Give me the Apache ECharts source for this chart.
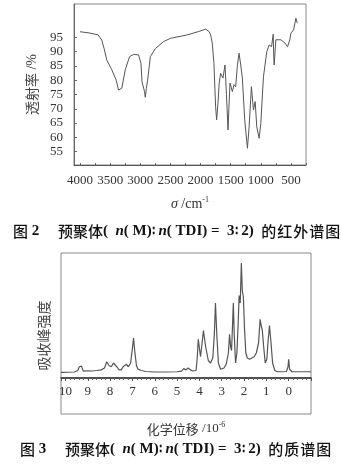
<!DOCTYPE html>
<html><head><meta charset="utf-8">
<script src="https://cdn.jsdelivr.net/npm/echarts@6/dist/echarts.min.js"></script>
<style>html,body{margin:0;padding:0;background:#fff}#c{width:341px;height:466px}</style>
</head><body><div id="c"></div><script>
// IR spectrum (wavenumber cm^-1, transmittance %)
const irWavenumber = [4000,3850,3700,3640,3600,3556,3472,3400,3361,3330,3306,3250,3178,3111,3028,2989,2972,2930,2917,2900,2878,2833,2750,2611,2500,2222,2028,1917,1860,1833,1806,1778,1750,1733,1711,1690,1667,1628,1594,1570,1544,1530,1511,1472,1444,1417,1389,1361,1333,1306,1267,1222,1194,1156,1122,1094,1067,1028,1000,956,900,861,822,794,785,778,750,667,600,556,520,500,456,417,400,389];
const irTransmittance = [96.9,96.5,95.8,94,91,87,83.6,80,76.5,76,77.2,83.6,88.2,89,88.8,85.9,79.5,76,74,77,80,88.2,91,93.5,94.6,95.8,97,97.8,97,95.8,93,85.9,70.7,66.1,71.9,79,82.4,80.7,85.3,75,62.6,70,79,76,78.4,77.7,85,89.4,85.3,80.7,66.1,56.2,63.7,77.7,69.6,72.5,63.7,59.7,64.9,81.2,90,92.3,91.7,96,88,85.3,94.1,94.1,93,91.7,94,96.4,97.6,101.6,100.2,99.9];
const irYTicks = [55,60,65,70,75,80,85,90,95];
const irXLabels = [500,1000,1500,2000,2500,3000,3500,4000];

// 1H NMR spectrum (chemical shift, relative intensity)
const nmrShift = [10.2,9.9,9.6,9.45,9.38,9.33,9.28,9.2,9.0,8.8,8.6,8.4,8.25,8.15,8.05,7.95,7.85,7.78,7.7,7.6,7.5,7.42,7.35,7.27,7.18,7.08,7.0,6.95,6.9,6.82,6.75,6.68,6.6,6.4,6.0,5.5,5.0,4.8,4.7,4.6,4.5,4.4,4.3,4.15,4.1,4.05,4.0,3.95,3.88,3.82,3.77,3.72,3.6,3.5,3.4,3.33,3.28,3.22,3.15,3.05,2.9,2.8,2.7,2.65,2.6,2.56,2.52,2.48,2.44,2.38,2.32,2.26,2.22,2.17,2.12,2.08,2.03,1.98,1.92,1.85,1.75,1.65,1.55,1.45,1.35,1.28,1.23,1.18,1.12,1.05,0.98,0.92,0.86,0.8,0.72,0.62,0.5,0.3,0.1,0.03,0.0,-0.04,-0.15,-0.5,-1.0];
const nmrIntensity = [4.5,4.6,4.8,6,9,7.5,9.5,5.5,5.8,5.6,6,6.5,8,13,10,9,12,13.5,9,6.5,6.5,9,8,11,9,12,24,32,22,10,7,8,6,5.2,4.8,4.8,5,5.5,7.5,6.5,8,6.5,5.6,6,15,31,24,17,28,38,37,25,14,12,16,35,60,35,12,7,8,11,20,35,25,22,40,60,35,12,20,45,66,60,92,70,65,40,20,16,15,16,17,20,28,47,42,38,25,12,15,30,42,30,12,6,5,5,5.2,9,15,7,5,5,5];
const nmrXLabels = [0,1,2,3,4,5,6,7,8,9,10];

const serif = 'Liberation Serif, Times New Roman, serif';
const cjk = 'Noto Sans CJK SC';
const chart = echarts.init(document.getElementById('c'), null, {renderer: 'canvas'});
const capRich = {
  c: {fontFamily: cjk, fontSize: 15, fontWeight: 500, color: '#111'},
  w: {fontFamily: cjk, fontSize: 15, fontWeight: 500, color: '#111', padding: [0, 1, 0, 0]},
  s: {fontFamily: serif, fontSize: 15, fontWeight: 'bold', color: '#111'},
  r: {fontFamily: 'DejaVu Serif', fontSize: 13, fontWeight: 'bold', color: '#111'},
  i: {fontFamily: serif, fontSize: 15, fontStyle: 'italic', fontWeight: 'bold', color: '#111'}
};
function caption(num, tail) {
  return '{c|图}{s| ' + num + '     }{c|预聚体}{s|(  }{i|n}{s|( M)}{r|∶}{s| }{i|n}{s|( TDI) =  3}{r|∶}{s| 2)  }' +
    tail.split('').map(ch => '{w|' + ch + '}').join('');
}
chart.setOption({
  animation: false,
  backgroundColor: '#fff',
  title: [
    {left: 13, top: 224, padding: 0, text: caption('2', '的红外谱图'), textStyle: {rich: capRich}},
    {left: 20, top: 442, padding: 0, text: caption('3', '的质谱图'), textStyle: {rich: capRich}}
  ],
  grid: [
    {left: 74, right: 35, top: 4, bottom: 301, show: true, borderColor: '#888', borderWidth: 1, containLabel: false, outerBoundsMode: 'none'},
    {left: 61, right: 30, top: 253, bottom: 88, show: true, borderColor: '#888', borderWidth: 1, containLabel: false, outerBoundsMode: 'none'},
    {left: 61, right: 30, top: 378, bottom: 52, show: true, borderColor: '#888', borderWidth: 1, containLabel: false, outerBoundsMode: 'none'}
  ],
  xAxis: [
    {gridIndex: 0, type: 'value', inverse: true, min: 250, max: 4100, interval: 250,
     axisLine: {show: true, onZero: false, lineStyle: {color: '#555', width: 1}},
     axisTick: {show: true, inside: true, length: 2, lineStyle: {color: '#666'}},
     axisLabel: {margin: 9, fontFamily: serif, fontSize: 13, color: '#333',
       formatter: v => irXLabels.indexOf(v) >= 0 ? String(v) : ''},
     splitLine: {show: false},
     name: '{i|σ} {s|/cm}{sup|-1}', nameLocation: 'middle', nameGap: 31,
     nameTextStyle: {rich: {
       i: {fontFamily: serif, fontStyle: 'italic', fontSize: 14, color: '#333'},
       s: {fontFamily: serif, fontSize: 14, color: '#333'},
       sup: {fontFamily: serif, fontSize: 8, color: '#333', verticalAlign: 'top', padding: [0,0,8,0]}}}},
    {gridIndex: 1, type: 'value', inverse: true, min: -1, max: 10.2, interval: 1,
     axisLine: {show: true, onZero: false, lineStyle: {color: '#333', width: 1.5}},
     axisTick: {show: true, length: 3, lineStyle: {color: '#555'}},
     minorTick: {show: true, splitNumber: 5, length: 2, lineStyle: {color: '#666'}},
     axisLabel: {margin: 7, fontFamily: serif, fontSize: 13, color: '#333',
       formatter: v => nmrXLabels.indexOf(v) >= 0 ? String(v) : ''},
     splitLine: {show: false}, minorSplitLine: {show: false},
     name: '{c|化学位移} {s|/10}{sup|-6}', nameLocation: 'middle', nameGap: 43,
     nameTextStyle: {rich: {
       c: {fontFamily: cjk, fontSize: 13, color: '#333'},
       s: {fontFamily: serif, fontSize: 13, color: '#333'},
       sup: {fontFamily: serif, fontSize: 8, color: '#333', verticalAlign: 'top', padding: [0,0,8,0]}}}},
    {gridIndex: 2, type: 'value', show: false, min: 0, max: 1}
  ],
  yAxis: [
    {gridIndex: 0, type: 'value', min: 50.35, max: 106.6,
     axisLine: {show: true, lineStyle: {color: '#666'}},
     axisTick: {show: true, inside: true, length: 3, customValues: irYTicks, lineStyle: {color: '#666'}},
     axisLabel: {margin: 11, fontFamily: serif, fontSize: 13, color: '#333', customValues: irYTicks},
     splitLine: {show: false},
     name: '{c|透射率} {s|/%}', nameLocation: 'middle', nameRotate: 90, nameGap: 33,
     nameTextStyle: {rich: {
       c: {fontFamily: cjk, fontSize: 14, color: '#444'},
       s: {fontFamily: serif, fontSize: 14, color: '#444'}}}},
    {gridIndex: 1, type: 'value', min: 0, max: 100,
     axisLine: {show: false}, axisTick: {show: false}, axisLabel: {show: false}, splitLine: {show: false},
     name: '吸收峰强度', nameLocation: 'middle', nameRotate: 90, nameGap: 10,
     nameTextStyle: {fontFamily: cjk, fontSize: 14, color: '#444', padding: [0, 40, 0, 0]}},
    {gridIndex: 2, type: 'value', show: false, min: 0, max: 1}
  ],
  series: [
    {type: 'line', xAxisIndex: 0, yAxisIndex: 0, showSymbol: false, silent: true,
     lineStyle: {color: '#555', width: 1},
     data: irWavenumber.map((w, i) => [w, irTransmittance[i]])},
    {type: 'line', xAxisIndex: 1, yAxisIndex: 1, showSymbol: false, silent: true,
     lineStyle: {color: '#555', width: 1.2},
     data: nmrShift.map((s, i) => [s, nmrIntensity[i]])}
  ]
});
</script></body></html>
